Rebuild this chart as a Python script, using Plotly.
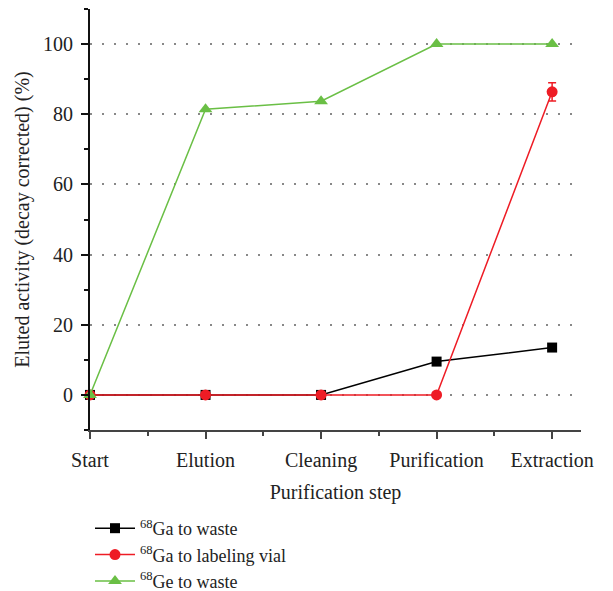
import plotly.graph_objects as go

steps = ["Start", "Elution", "Cleaning", "Purification", "Extraction"]
ga_waste = [0, 0, 0, 9.5, 13.5]
ga_vial = [0, 0, 0, 0, 86.4]
ga_vial_err = [0, 0, 0, 0, 2.6]
ge_waste = [0, 81.4, 83.7, 100, 100]

xpos = list(range(len(steps)))
font_family = "Liberation Serif, Times New Roman, serif"
fs = 20

fig = go.Figure()
fig.add_trace(go.Scatter(
    x=xpos, y=ga_waste, mode="lines+markers", name="<sup>68</sup>Ga to waste",
    line=dict(color="#000000", width=1.5),
    marker=dict(symbol="square", size=10, color="#000000"),
    cliponaxis=False,
))
fig.add_trace(go.Scatter(
    x=xpos, y=ga_vial, mode="lines+markers", name="<sup>68</sup>Ga to labeling vial",
    line=dict(color="#ee1c25", width=1.5),
    marker=dict(symbol="circle", size=11, color="#ee1c25"),
    error_y=dict(type="data", array=ga_vial_err, visible=True, color="#ee1c25",
                 thickness=1.5, width=4),
    cliponaxis=False,
))
fig.add_trace(go.Scatter(
    x=xpos, y=ge_waste, mode="lines+markers", name="<sup>68</sup>Ge to waste",
    line=dict(color="#6abf45", width=1.5),
    marker=dict(symbol="triangle-up", size=12, color="#6abf45"),
    cliponaxis=False,
))

fig.update_layout(
    width=613, height=591,
    margin=dict(l=90, r=32, t=9, b=161, autoexpand=False),
    plot_bgcolor="white", paper_bgcolor="white",
    font=dict(family=font_family, size=fs, color="#222"),
    showlegend=True,
    legend=dict(x=0.0, y=-0.19, xanchor="left", yanchor="top",
                font=dict(size=18, color="#222"), tracegroupgap=0,
                bgcolor="rgba(0,0,0,0)", itemwidth=40),
)
fig.update_xaxes(
    automargin=False,
    range=[0, 4.25], tickvals=xpos, ticktext=steps,
    showline=True, linecolor="#444", linewidth=2,
    ticks="outside", ticklen=7, tickcolor="#444", tickwidth=1.5,
    minor=dict(dtick=0.5, tick0=0, ticks="outside", ticklen=4, tickcolor="#444", tickwidth=1.5),
    showgrid=False, zeroline=False,
    ticklabelstandoff=4,
    title=dict(text="Purification step", font=dict(size=fs), standoff=14),
    tickfont=dict(size=fs),
)
fig.update_yaxes(
    automargin=False,
    range=[-10, 110], tickvals=[0, 20, 40, 60, 80, 100],
    showline=True, linecolor="#111", linewidth=2,
    ticks="outside", ticklen=7, tickcolor="#111", tickwidth=1.5,
    minor=dict(tickvals=[-10, 10, 30, 50, 70, 90, 110], ticks="outside", ticklen=4,
               tickcolor="#111", tickwidth=1.5),
    showgrid=True, gridcolor="#888", gridwidth=1.5, griddash="1.5px,10.5px",
    zeroline=False,
    ticklabelstandoff=4,
    title=dict(text="Eluted activity (decay corrected) (%)", font=dict(size=fs), standoff=8),
    tickfont=dict(size=fs),
)

fig.write_html("out.html")
